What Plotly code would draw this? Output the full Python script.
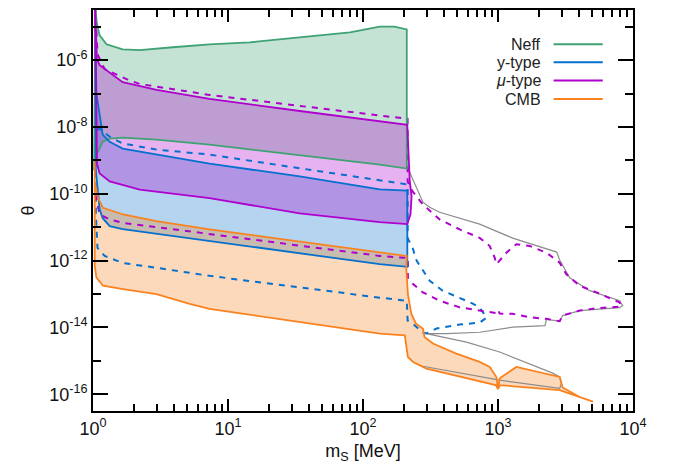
import plotly.graph_objects as go

# ---------------- data (m_S in MeV, theta) ----------------
# Neff region
neff_up_m = [1.04, 1.065, 1.12, 1.26, 1.66, 2.22, 3.9, 7.3, 14.5, 34, 80, 133, 171, 211]
neff_up_t = [4e-5, 1.34e-5, 5.5e-6, 2.98e-6, 2.1e-6, 1.98e-6, 2.43e-6, 2.98e-6, 3.4e-6, 4.8e-6, 6.8e-6, 1.0e-5, 1.0e-5, 8.3e-6]
neff_lo_m = [211, 133, 34, 7.3, 2.96, 1.66, 1.33, 1.18, 1.065, 1.03, 1.02]
neff_lo_t = [5.7e-10, 7.5e-10, 1.45e-9, 2.96e-9, 4.2e-9, 4.8e-9, 4.5e-9, 3.6e-9, 1.5e-9, 7.5e-10, 5e-10]

# mu-type region (solid)
mu_up_m = [1.035, 1.07, 1.12, 1.26, 1.66, 2.96, 7.3, 34, 133, 213, 222, 229, 225, 216]
mu_up_t = [4e-5, 1.07e-6, 7.1e-7, 5.0e-7, 2.2e-7, 1.28e-7, 6.9e-8, 3.0e-8, 1.53e-8, 1.16e-8, 2.34e-10, 8.4e-11, 2.45e-11, 1.3e-11]
mu_lo_m = [213, 133, 34, 7.3, 2.22, 1.33, 1.12, 1.07]
mu_lo_t = [1.24e-11, 1.42e-11, 2.6e-11, 7.4e-11, 1.34e-10, 2.34e-10, 4.06e-10, 8e-10]

# y-type region (solid)
y_up_m = [1.045, 1.06, 1.18, 1.33, 1.66, 2.96, 7.3, 34, 133, 213]
y_up_t = [3e-6, 1e-7, 5.9e-9, 3.6e-9, 2.25e-9, 1.49e-9, 8.0e-10, 3.3e-10, 1.36e-10, 1.24e-10]
y_lo_m = [213, 133, 34, 7.3, 2.96, 1.66, 1.33, 1.18, 1.12, 1.05]
y_lo_t = [6.5e-13, 7.8e-13, 1.67e-12, 3.85e-12, 6.2e-12, 8.8e-12, 1.08e-11, 1.86e-11, 3.45e-11, 5e-10]

# CMB region
cmb_up_m = [1.03, 1.03, 1.089, 1.186, 1.67, 2.95, 7.3, 34, 133, 211, 209, 215, 228, 247, 278, 286, 330,
            491, 731, 868, 973, 1000, 1030, 1368, 2864, 3013, 4027, 5058]
cmb_up_t = [9.2e-10, 2.35e-10, 7.5e-11, 3.8e-11, 2.4e-11, 1.52e-11, 8.6e-12, 3.8e-12, 1.8e-12, 1.38e-12,
            6.2e-13, 1.0e-13, 2.55e-14, 1.29e-14, 9.1e-15, 5.1e-15, 3.3e-15, 1.65e-15, 9.3e-16, 6.6e-16,
            3.3e-16, 1.43e-16, 3.0e-16, 6.6e-16, 3.3e-16, 1.6e-16, 8.3e-17, 6.0e-17]
cmb_lo_m = [3700, 2864, 1035, 1000, 960, 295, 278, 235, 215, 209, 204, 133, 34, 7.3, 5.2, 2.95, 1.67, 1.186, 1.06, 1.03]
cmb_lo_t = [9.5e-17, 1.34e-16, 1.88e-16, 1.43e-16, 1.88e-16, 5.9e-16, 6.6e-16, 9.3e-16, 1.31e-15, 3.3e-15,
            5.8e-15, 6.5e-15, 1.46e-14, 3.6e-14, 5.1e-14, 1.0e-13, 1.41e-13, 1.77e-13, 3.1e-13, 7.0e-13]

# y-type dashed contour
yd_m = [1.05, 1.12, 1.33, 1.66, 2.96, 7.3, 34, 133, 204, 214, 214, 233, 250, 278, 312, 389, 520, 650, 731,
        770, 825, 731, 520, 351, 296, 277, 233, 214, 211, 133, 34, 7.3, 2.96, 1.66, 1.22, 1.08, 1.05, 1.05]
yd_t = [8e-9, 8.8e-9, 5.1e-9, 3.2e-9, 2.1e-9, 1.49e-9, 5.8e-10, 2.5e-10, 1.9e-10, 1.9e-10, 4.7e-12, 2.4e-12,
        9.8e-13, 4.9e-13, 2.5e-13, 1.26e-13, 7.8e-14, 5.2e-14, 3.9e-14, 2.8e-14, 1.98e-14, 1.4e-14, 1.22e-14,
        9.3e-15, 6.6e-15, 7.1e-15, 1.31e-14, 1.61e-14, 6.3e-14, 7.8e-14, 1.59e-13, 3.5e-13, 6.1e-13, 8.5e-13,
        1.38e-12, 2.4e-12, 2.45e-11, 8e-9]

# mu-type dashed contour
md_m = [1.04, 1.08, 1.22, 1.5, 1.85, 2.22, 3.7, 7.3, 34, 133, 211, 214, 214, 233, 278, 370, 520, 731, 868,
        945, 973, 1154, 1368, 1718, 2284, 2864, 3212, 4027, 5355, 7960, 8200, 5355, 4027, 3013, 2864, 2284,
        1718, 1285, 1030, 1000, 960, 731, 520, 370, 278, 235, 215, 215, 211, 133, 34, 7.3, 2.95, 1.67, 1.33,
        1.12, 1.04, 1.04]
md_t = [4e-5, 1.5e-6, 5.4e-7, 3.6e-7, 2.5e-7, 1.93e-7, 1.37e-7, 9.1e-8, 4.27e-8, 2.2e-8, 1.75e-8, 1.75e-8,
        2.34e-10, 1.18e-10, 4.8e-11, 1.7e-11, 8.6e-12, 4.8e-12, 2.74e-12, 1.23e-12, 7.8e-13, 1.73e-12,
        3.1e-12, 2.74e-12, 1.73e-12, 8.7e-13, 3.9e-13, 1.77e-13, 1.12e-13, 5.6e-14, 4.2e-14, 3.75e-14,
        3.2e-14, 2.27e-14, 1.54e-14, 1.81e-14, 2.02e-14, 2.55e-14, 2.6e-14, 3.4e-14, 2.7e-14, 3.2e-14,
        4.0e-14, 6.3e-14, 1.12e-13, 1.99e-13, 3.1e-13, 1.23e-12, 1.2e-12, 1.38e-12, 2.8e-12, 6.1e-12,
        9.6e-12, 1.35e-11, 1.7e-11, 2.4e-11, 1e-10, 4e-5]

# thin grey contour
gr_m = [215, 246, 278, 312, 370, 731, 1285, 2720, 2864, 3397, 4775, 7960, 8376, 7960, 4027, 3013, 2864,
        2284, 2230, 1285, 731, 416, 295, 584, 1028, 2542, 2864, 2950, 2864, 1028, 295, 278]
gr_t = [5.8e-10, 1.67e-10, 5.6e-11, 3.95e-11, 2.8e-11, 1.24e-11, 4.7e-12, 1.8e-12, 1.05e-12, 3.06e-13,
        1.26e-13, 6.3e-14, 4.5e-14, 3.9e-14, 3.2e-14, 2.27e-14, 1.54e-14, 1.73e-14, 1.14e-14, 1.02e-14,
        7.2e-15, 6.5e-15, 6.5e-15, 3.65e-15, 1.84e-15, 4.3e-16, 3.3e-16, 2.1e-16, 1.5e-16, 2.65e-16,
        6.6e-16, 6.9e-16]

legend_labels = ["Neff", "y-type", "<i>μ</i>-type", "CMB"]
x_ticks = [1, 10, 100, 1000, 10000]
x_ticktext = ["10<sup>0</sup>", "10<sup>1</sup>", "10<sup>2</sup>", "10<sup>3</sup>", "10<sup>4</sup>"]
y_ticks = [1e-6, 1e-8, 1e-10, 1e-12, 1e-14, 1e-16]
y_ticktext = ["10<sup>-6</sup>", "10<sup>-8</sup>", "10<sup>-10</sup>", "10<sup>-12</sup>",
              "10<sup>-14</sup>", "10<sup>-16</sup>"]

# ---------------- styles ----------------
GREEN = (62, 162, 115)
BLUE = (5, 112, 205)
PURPLE = (175, 0, 205)
ORANGE = (250, 130, 30)
GREY = "#8c8c8c"
ALPHA = 0.3


def rgb(c):
    return "rgb(%d,%d,%d)" % c


def rgba(c, a):
    return "rgba(%d,%d,%d,%.2f)" % (c + (a,))


fig = go.Figure()

regions = [
    (neff_up_m + neff_lo_m, neff_up_t + neff_lo_t, GREEN),
    (y_up_m + y_lo_m, y_up_t + y_lo_t, BLUE),
    (mu_up_m + mu_lo_m, mu_up_t + mu_lo_t, PURPLE),
    (cmb_up_m + cmb_lo_m, cmb_up_t + cmb_lo_t, ORANGE),
]

for xs, ys, col in regions:
    fig.add_trace(go.Scatter(x=xs, y=ys, mode="lines", fill="toself",
                             fillcolor=rgba(col, ALPHA), line=dict(width=0),
                             hoverinfo="skip", showlegend=False))

# grey thin contour
fig.add_trace(go.Scatter(x=gr_m, y=gr_t, mode="lines", line=dict(color=GREY, width=1.2),
                         showlegend=False))

# dashed contours
fig.add_trace(go.Scatter(x=yd_m, y=yd_t, mode="lines",
                         line=dict(color=rgb(BLUE), width=2, dash="6px,6px"), showlegend=False))
fig.add_trace(go.Scatter(x=md_m, y=md_t, mode="lines",
                         line=dict(color=rgb(PURPLE), width=2, dash="6px,6px"), showlegend=False))

# solid region outlines
for xs, ys, col in regions:
    fig.add_trace(go.Scatter(x=xs + xs[:1], y=ys + ys[:1], mode="lines",
                             line=dict(color=rgb(col), width=1.8), showlegend=False))

# legend (text then line sample, gnuplot style)
leg_cols = [GREEN, BLUE, PURPLE, ORANGE]
leg_y = [0.9145, 0.870, 0.824, 0.778]
for lab, col, yy in zip(legend_labels, leg_cols, leg_y):
    fig.add_annotation(x=0.833, y=yy, xref="paper", yref="paper", text=lab, showarrow=False,
                       xanchor="right", yanchor="middle", font=dict(size=16, color="#222"))
    fig.add_shape(type="line", xref="paper", yref="paper", x0=0.853, x1=0.944, y0=yy, y1=yy,
                  line=dict(color=rgb(col), width=2))

minor_x = [k * 10 ** d for d in range(4) for k in range(2, 10)]
minor_y = [10.0 ** e for e in (-5, -7, -9, -11, -13, -15)]

fig.update_layout(
    width=673, height=472,
    margin=dict(l=93, r=40, t=8, b=61),
    paper_bgcolor="white", plot_bgcolor="white",
    font=dict(family="Liberation Sans, Arial, sans-serif", size=16, color="#111"),
    showlegend=False,
)
fig.update_xaxes(type="log", range=[0, 4], showgrid=False, zeroline=False,
                 showline=True, linecolor="black", linewidth=2, mirror="ticks",
                 ticks="inside", ticklen=12, tickwidth=1.5, tickcolor="black",
                 tickmode="array", tickvals=x_ticks, ticktext=x_ticktext,
                 tickfont=dict(size=18),
                 minor=dict(tickmode="array", tickvals=minor_x, ticks="inside", ticklen=7,
                            tickwidth=1.5, tickcolor="black", showgrid=False),
                 title=dict(text="m<sub>S</sub> [MeV]", standoff=7, font=dict(size=18)))
fig.update_yaxes(type="log", range=[-16.5, -4.5], showgrid=False, zeroline=False,
                 showline=True, linecolor="black", linewidth=2, mirror="ticks",
                 ticks="inside", ticklen=15, tickwidth=1.5, tickcolor="black",
                 tickmode="array", tickvals=y_ticks, ticktext=y_ticktext,
                 tickfont=dict(size=18),
                 minor=dict(tickmode="array", tickvals=minor_y, ticks="inside", ticklen=8,
                            tickwidth=1.5, tickcolor="black", showgrid=False),
                 title=dict(text="θ", standoff=10, font=dict(size=18)))

fig.write_html("out.html")
